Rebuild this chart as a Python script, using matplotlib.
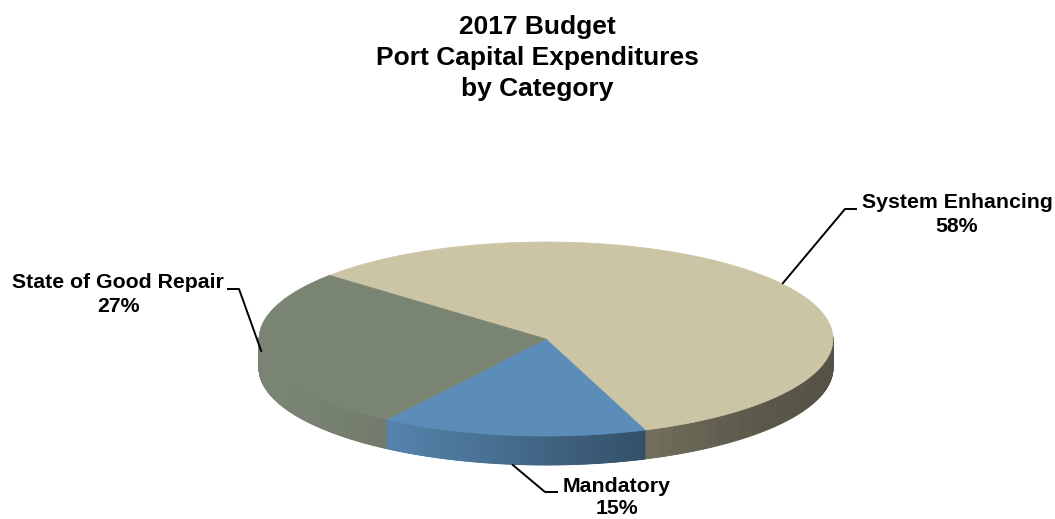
import numpy as np
import matplotlib
matplotlib.use("Agg")
import matplotlib.pyplot as plt
from matplotlib.patches import Polygon
from matplotlib.colors import to_rgb

# Data
categories = ["System Enhancing", "Mandatory", "State of Good Repair"]
shares = [58, 15, 27]
slice_colors = ["#CBC5A5", "#5B8DB8", "#7A8473"]
title_lines = ["2017 Budget", "Port Capital Expenditures", "by Category"]

W, H = 1055, 519
fig = plt.figure(figsize=(W / 100, H / 100), dpi=100)
ax = fig.add_axes([0, 0, 1, 1])
ax.set_xlim(0, W)
ax.set_ylim(H, 0)
ax.axis("off")

FONT = ["Liberation Sans", "DejaVu Sans"]

# pie geometry (pixel space, y downward)
cx, cy = 546, 339
rx, ry = 287, 97
depth = 29
start = 139.0  # degrees, slices run clockwise


def rim(theta_deg):
    t = np.radians(theta_deg)
    return cx + rx * np.cos(t), cy - ry * np.sin(t)


def shade(x):
    u = np.clip((x - (cx - rx)) / (2 * rx), 0, 1)
    s = u * u * (3 - 2 * u)
    return 1.0 - 0.58 * s


total = float(sum(shares))
spans = [v / total * 360.0 for v in shares]
bounds = []
a = start
for sp in spans:
    bounds.append((a, a - sp))
    a -= sp

# side walls (front half only)
for (a0, a1), col in zip(bounds, slice_colors):
    base = np.array(to_rgb(col))
    th = np.linspace(a0, a1, 400)
    for i in range(len(th) - 1):
        t0, t1 = th[i], th[i + 1]
        if np.sin(np.radians((t0 + t1) / 2)) > 0.02:
            continue
        x0, y0 = rim(t0)
        x1, y1 = rim(t1)
        c = np.clip(base * shade((x0 + x1) / 2), 0, 1)
        ax.add_patch(Polygon([(x0, y0), (x1, y1), (x1, y1 + depth), (x0, y0 + depth)],
                             closed=True, facecolor=c, edgecolor=c, lw=0.6,
                             antialiased=True, zorder=1))

# top faces
for (a0, a1), col in zip(bounds, slice_colors):
    th = np.linspace(a0, a1, 300)
    pts = [(cx, cy)] + [rim(t) for t in th]
    ax.add_patch(Polygon(pts, closed=True, facecolor=col, edgecolor=col,
                         lw=0.5, zorder=2))

# labels with leader lines
label_pos = [(957, 203), (617, 486), (118, 283)]
elbows = [((845, 209), (857, 209)), ((545, 492), (558, 492)), ((239, 289), (227, 289))]
for (a0, a1), name, v, (tx, ty), (e1, e2) in zip(bounds, categories, shares, label_pos, elbows):
    mid = (a0 + a1) / 2
    px, py = rim(mid)
    if np.sin(np.radians(mid)) < -0.5:
        py += depth
    ax.plot([px, e1[0], e2[0]], [py, e1[1], e2[1]], color="black", lw=1.4,
            solid_capstyle="butt", zorder=3)
    ax.text(tx, ty, name, ha="center", va="center", fontsize=15.3,
            fontweight="bold", family=FONT, zorder=4)
    ax.text(tx, ty + 23, f"{v}%", ha="center", va="center", fontsize=15.3,
            fontweight="bold", family=FONT, zorder=4)

# title
for i, line in enumerate(title_lines):
    ax.text(537, 27 + i * 31, line, ha="center", va="center", fontsize=19,
            fontweight="bold", family=FONT)

fig.savefig("out.png", dpi=100)
